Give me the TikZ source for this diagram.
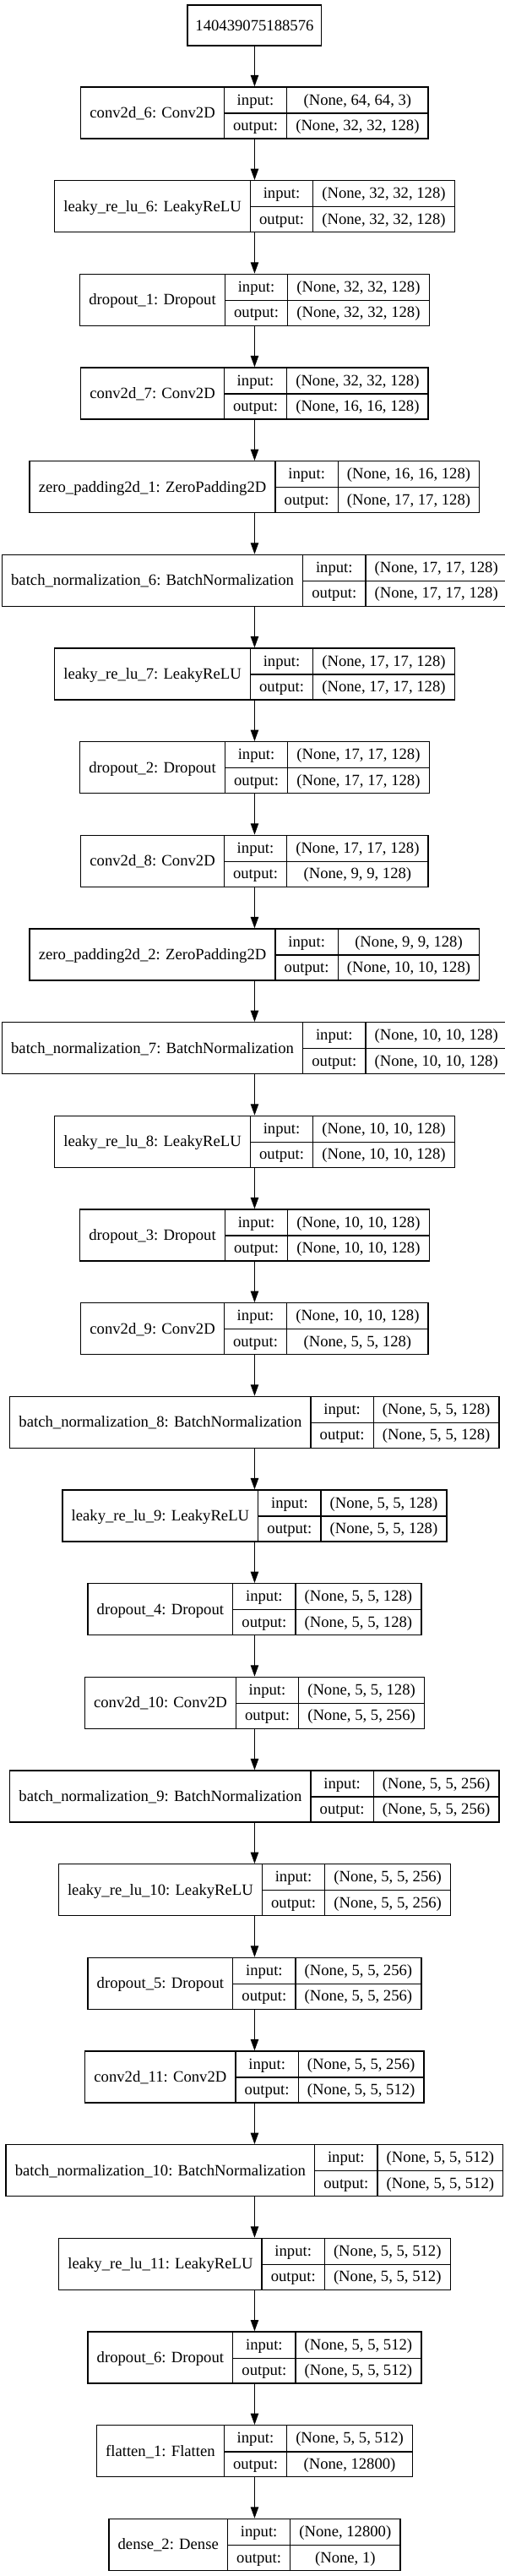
\documentclass[tikz,border=0pt]{standalone}
\usepackage{fontspec}
\setmainfont{Liberation Serif}
\usetikzlibrary{arrows.meta}

\setlength{\tabcolsep}{8pt}
\setlength{\arrayrulewidth}{1pt}
\newcommand{\rowstrut}{\rule[-7pt]{0pt}{22.875pt}}
\newcommand{\layer}[3]{%
\begin{tabular}{c|c|c}
 & \rowstrut input: & #2\\ \cline{2-3}
\raisebox{11.44pt}[0pt][0pt]{#1} & \rowstrut output: & #3
\end{tabular}}

\tikzset{
  record/.style={draw, line width=1pt, inner sep=0pt},
  inbox/.style={draw, line width=1pt, inner xsep=7pt, minimum height=36pt},
  flow/.style={line width=1pt, -{Triangle[length=10pt,width=7pt]}}
}

\begin{document}
\begin{tikzpicture}[x=1pt,y=-1pt,font=\fontsize{14pt}{16pt}\selectfont]
\useasboundingbox (0,0) rectangle (447.75,2286);
\node[inbox] (input) at (226.1,22.5) {140439075188576};
\node[record] (conv6) at (226.1,100.1) {\layer{conv2d\_6: Conv2D}{(None, 64, 64, 3)}{(None, 32, 32, 128)}};
\node[record] (leaky6) at (226.1,183.1) {\layer{leaky\_re\_lu\_6: LeakyReLU}{(None, 32, 32, 128)}{(None, 32, 32, 128)}};
\node[record] (drop1) at (226.1,266.1) {\layer{dropout\_1: Dropout}{(None, 32, 32, 128)}{(None, 32, 32, 128)}};
\node[record] (conv7) at (226.1,349.1) {\layer{conv2d\_7: Conv2D}{(None, 32, 32, 128)}{(None, 16, 16, 128)}};
\node[record] (zpad1) at (226.1,432.1) {\layer{zero\_padding2d\_1: ZeroPadding2D}{(None, 16, 16, 128)}{(None, 17, 17, 128)}};
\node[record] (bnorm6) at (226.1,515.1) {\layer{batch\_normalization\_6: BatchNormalization}{(None, 17, 17, 128)}{(None, 17, 17, 128)}};
\node[record] (leaky7) at (226.1,598.1) {\layer{leaky\_re\_lu\_7: LeakyReLU}{(None, 17, 17, 128)}{(None, 17, 17, 128)}};
\node[record] (drop2) at (226.1,681.1) {\layer{dropout\_2: Dropout}{(None, 17, 17, 128)}{(None, 17, 17, 128)}};
\node[record] (conv8) at (226.1,764.1) {\layer{conv2d\_8: Conv2D}{(None, 17, 17, 128)}{(None, 9, 9, 128)}};
\node[record] (zpad2) at (226.1,847.1) {\layer{zero\_padding2d\_2: ZeroPadding2D}{(None, 9, 9, 128)}{(None, 10, 10, 128)}};
\node[record] (bnorm7) at (226.1,930.1) {\layer{batch\_normalization\_7: BatchNormalization}{(None, 10, 10, 128)}{(None, 10, 10, 128)}};
\node[record] (leaky8) at (226.1,1013.1) {\layer{leaky\_re\_lu\_8: LeakyReLU}{(None, 10, 10, 128)}{(None, 10, 10, 128)}};
\node[record] (drop3) at (226.1,1096.1) {\layer{dropout\_3: Dropout}{(None, 10, 10, 128)}{(None, 10, 10, 128)}};
\node[record] (conv9) at (226.1,1179.1) {\layer{conv2d\_9: Conv2D}{(None, 10, 10, 128)}{(None, 5, 5, 128)}};
\node[record] (bnorm8) at (226.1,1262.1) {\layer{batch\_normalization\_8: BatchNormalization}{(None, 5, 5, 128)}{(None, 5, 5, 128)}};
\node[record] (leaky9) at (226.1,1345.1) {\layer{leaky\_re\_lu\_9: LeakyReLU}{(None, 5, 5, 128)}{(None, 5, 5, 128)}};
\node[record] (drop4) at (226.1,1428.1) {\layer{dropout\_4: Dropout}{(None, 5, 5, 128)}{(None, 5, 5, 128)}};
\node[record] (conv10) at (226.1,1511.1) {\layer{conv2d\_10: Conv2D}{(None, 5, 5, 128)}{(None, 5, 5, 256)}};
\node[record] (bnorm9) at (226.1,1594.1) {\layer{batch\_normalization\_9: BatchNormalization}{(None, 5, 5, 256)}{(None, 5, 5, 256)}};
\node[record] (leaky10) at (226.1,1677.1) {\layer{leaky\_re\_lu\_10: LeakyReLU}{(None, 5, 5, 256)}{(None, 5, 5, 256)}};
\node[record] (drop5) at (226.1,1760.1) {\layer{dropout\_5: Dropout}{(None, 5, 5, 256)}{(None, 5, 5, 256)}};
\node[record] (conv11) at (226.1,1843.1) {\layer{conv2d\_11: Conv2D}{(None, 5, 5, 256)}{(None, 5, 5, 512)}};
\node[record] (bnorm10) at (226.1,1926.1) {\layer{batch\_normalization\_10: BatchNormalization}{(None, 5, 5, 512)}{(None, 5, 5, 512)}};
\node[record] (leaky11) at (226.1,2009.1) {\layer{leaky\_re\_lu\_11: LeakyReLU}{(None, 5, 5, 512)}{(None, 5, 5, 512)}};
\node[record] (drop6) at (226.1,2092.1) {\layer{dropout\_6: Dropout}{(None, 5, 5, 512)}{(None, 5, 5, 512)}};
\node[record] (flat1) at (226.1,2175.1) {\layer{flatten\_1: Flatten}{(None, 5, 5, 512)}{(None, 12800)}};
\node[record] (dense2) at (226.1,2258.1) {\layer{dense\_2: Dense}{(None, 12800)}{(None, 1)}};
\draw[flow] (input) -- (conv6);
\draw[flow] (conv6) -- (leaky6);
\draw[flow] (leaky6) -- (drop1);
\draw[flow] (drop1) -- (conv7);
\draw[flow] (conv7) -- (zpad1);
\draw[flow] (zpad1) -- (bnorm6);
\draw[flow] (bnorm6) -- (leaky7);
\draw[flow] (leaky7) -- (drop2);
\draw[flow] (drop2) -- (conv8);
\draw[flow] (conv8) -- (zpad2);
\draw[flow] (zpad2) -- (bnorm7);
\draw[flow] (bnorm7) -- (leaky8);
\draw[flow] (leaky8) -- (drop3);
\draw[flow] (drop3) -- (conv9);
\draw[flow] (conv9) -- (bnorm8);
\draw[flow] (bnorm8) -- (leaky9);
\draw[flow] (leaky9) -- (drop4);
\draw[flow] (drop4) -- (conv10);
\draw[flow] (conv10) -- (bnorm9);
\draw[flow] (bnorm9) -- (leaky10);
\draw[flow] (leaky10) -- (drop5);
\draw[flow] (drop5) -- (conv11);
\draw[flow] (conv11) -- (bnorm10);
\draw[flow] (bnorm10) -- (leaky11);
\draw[flow] (leaky11) -- (drop6);
\draw[flow] (drop6) -- (flat1);
\draw[flow] (flat1) -- (dense2);
\end{tikzpicture}
\end{document}
